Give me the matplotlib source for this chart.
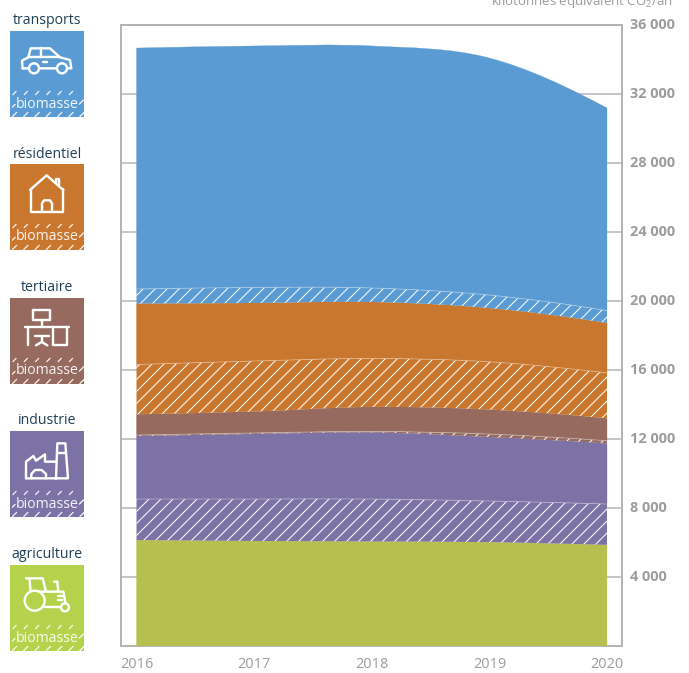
import numpy as np
import matplotlib
matplotlib.use("Agg")
import matplotlib.pyplot as plt
from matplotlib.path import Path
from matplotlib.patches import PathPatch, Rectangle, Circle

plt.rcParams['font.family'] = ['Open Sans', 'DejaVu Sans']
plt.rcParams['mathtext.default'] = 'regular'
plt.rcParams['hatch.linewidth'] = 1.0

years = [2016, 2017, 2018, 2019, 2020]
agriculture = [6140, 6090, 6060, 6020, 5860]
industrie_biomasse = [2380, 2430, 2460, 2385, 2370]
industrie = [3650, 3770, 3860, 3710, 3510]
tertiaire_biomasse = [60, 60, 60, 170, 160]
tertiaire = [1200, 1245, 1420, 1420, 1300]
residentiel_biomasse = [2890, 2925, 2810, 2770, 2630]
residentiel = [3535, 3365, 3275, 3115, 2900]
transports_biomasse = [840, 900, 810, 755, 710]
transports = [13970, 14000, 14030, 13740, 11750]
yticks = [4000, 8000, 12000, 16000, 20000, 24000, 28000, 32000, 36000]
ytick_labels = ['4 000', '8 000', '12 000', '16 000', '20 000', '24 000', '28 000', '32 000', '36 000']

BLUE, ORANGE, BROWN, PURPLE, OLIVE, LIME = '#5b9bd3', '#c9772e', '#966a5f', '#7c72a6', '#b7c04e', '#b5d24c'
W, H = 689, 673
GRID = '#b4b4b8'
GREY = '#9c9c9c'
DARK = '#1f3f55'

fig = plt.figure(figsize=(W / 72, H / 72), dpi=72)
ax = fig.add_axes([121 / W, 1 - 646 / H, (621.5 - 121) / W, (646 - 25) / H])
x = np.array(years, float)
ppy = (607 - 136.5) / 4
ax.set_xlim(2016 - 15.5 / ppy, 2020 + 14.5 / ppy)
ax.set_ylim(0, 36000)


def tangents(v):
    t = np.gradient(v, x)
    d = np.diff(v) / np.diff(x)
    t[0] = d[0] * 1.0
    t[-1] = d[-1] * 1.25
    return t


def curve(v):
    """Bezier segments through the yearly values."""
    t = tangents(v)
    verts, codes = [], []
    for i in range(len(x) - 1):
        h = x[i + 1] - x[i]
        verts += [(x[i] + h / 3, v[i] + t[i] * h / 3),
                  (x[i + 1] - h / 3, v[i + 1] - t[i + 1] * h / 3),
                  (x[i + 1], v[i + 1])]
        codes += [Path.CURVE4] * 3
    return verts, codes


def band(low, high):
    v_hi, c_hi = curve(high)
    v_lo, c_lo = curve(low)
    pts_lo = [(x[0], low[0])] + v_lo
    rev = pts_lo[::-1]
    verts = [(x[0], high[0])] + v_hi + rev + [(x[0], high[0])]
    codes = [Path.MOVETO] + c_hi + [Path.LINETO] + c_lo + [Path.CLOSEPOLY]
    return Path(verts, codes)


series = [(agriculture, OLIVE, False), (industrie_biomasse, PURPLE, True), (industrie, PURPLE, False),
          (tertiaire_biomasse, BROWN, True), (tertiaire, BROWN, False),
          (residentiel_biomasse, ORANGE, True), (residentiel, ORANGE, False),
          (transports_biomasse, BLUE, True), (transports, BLUE, False)]

low = np.zeros(5)
for vals, col, hatched in series:
    high = low + np.array(vals, float)
    if hatched:
        ax.add_patch(PathPatch(band(low, high), facecolor=col, edgecolor='white', hatch='//', lw=0, zorder=3))
        v, c = curve(high)
        ax.add_patch(PathPatch(Path([(x[0], high[0])] + v, [Path.MOVETO] + c), fill=False,
                               edgecolor='white', lw=0.8, alpha=0.4, zorder=4))
    else:
        ax.add_patch(PathPatch(band(low, high), facecolor=col, edgecolor=col, lw=0.3, zorder=3))
    low = high

ax.yaxis.tick_right()
ax.set_yticks(yticks)
ax.set_yticklabels(ytick_labels, fontsize=14.5, fontweight='bold', color=GREY, va='center')
ax.set_xticks(years)
ax.set_xticklabels(years, fontsize=14.5, color=GREY)
ax.tick_params(axis='both', length=0)
ax.tick_params(axis='y', pad=9)
ax.tick_params(axis='x', pad=11)
ax.grid(axis='y', color=GRID, lw=1.5, zorder=1)
ax.set_axisbelow(True)
for s in ax.spines.values():
    s.set_color(GRID)
    s.set_linewidth(2)

# overlay in pixel coordinates for the legend column
ov = fig.add_axes([0, 0, 1, 1], facecolor='none')
ov.set_xlim(0, W)
ov.set_ylim(H, 0)
ov.axis('off')

ov.text(673, 5.5, 'kilotonnes équivalent CO$_2$/an', ha='right', va='baseline', fontsize=13.3, color=GREY, clip_on=False)

legend_names = ['transports', 'résidentiel', 'tertiaire', 'industrie', 'agriculture']
legend_colors = [BLUE, ORANGE, BROWN, PURPLE, LIME]
legend_tops = [31, 164, 298, 431, 565]
legend_label_y = [21, 154, 287.5, 421, 555]


def pl(pts, oy=0, lw=2.4):
    a = np.array(pts, float) / 3
    ov.plot(a[:, 0], a[:, 1] + oy, color='white', lw=lw, solid_capstyle='round', solid_joinstyle='round', zorder=6)


def circ(cx, cy, r, oy, fc):
    ov.add_patch(Circle((cx / 3, cy / 3 + oy), r / 3, facecolor=fc, edgecolor='white', lw=2.4, zorder=7))


for name, col, top, ly in zip(legend_names, legend_colors, legend_tops, legend_label_y):
    ov.add_patch(Rectangle((10, top), 74, 86, facecolor=col, edgecolor='none', zorder=5))
    ov.text(47, ly, name, ha='center', va='center', fontsize=14, color=DARK, zorder=6)
    ov.text(47, top + 73, 'biomasse', ha='center', va='center', fontsize=14, color='white', alpha=.92, zorder=6)
    for k in range(6):
        for row in (0, 1):
            x0 = 12.5 + k * 11.3 + (0 if row else 0.5)
            y0 = top + (63.5 if row == 0 else 85.5)
            h = 3 if row == 0 else 4
            ov.plot([x0, x0 + h], [y0, y0 - h], color='white', lw=1.2, alpha=.95, zorder=6)
    ov.plot([12.5, 15], [top + 76, top + 73.5], color='white', lw=1.2, zorder=6)
    ov.plot([79.5, 83.5], [top + 73, top + 69], color='white', lw=1.2, zorder=6)
    ov.plot([80, 84], [top + 85.5, top + 81.5], color='white', lw=1.2, zorder=6)

# car
pl([(68, 205), (66, 182), (85, 172), (92, 145), (150, 145), (180, 172), (210, 180), (214, 205), (68, 205)])
pl([(85, 172), (180, 172)])
pl([(122, 145), (122, 172)])
pl([(130, 185), (140, 185)])
circ(102, 205, 15, 0, BLUE)
circ(186, 205, 15, 0, BLUE)
# house
pl([(90, 570), (140, 526), (190, 570)], 0)
pl([(168, 548), (168, 536), (178, 536), (178, 556)], 0)
pl([(92, 568), (92, 636), (188, 636), (188, 568)], 0)
pl([(126, 636), (126, 610), (132, 601), (150, 601), (156, 610), (156, 636)], 0)
# desk
oy = 270
pl([(100, 120), (150, 120), (150, 150), (100, 150), (100, 120)], oy)
pl([(125, 150), (125, 170)], oy)
pl([(76, 170), (206, 170)], oy)
pl([(84, 170), (84, 226)], oy)
pl([(160, 170), (160, 226), (200, 226), (200, 170)], oy)
pl([(104, 198), (146, 198)], oy)
pl([(125, 198), (125, 216)], oy)
pl([(108, 226), (125, 216), (142, 226)], oy)
# factory
pl([(78, 625), (78, 575), (100, 558), (108, 572), (135, 553), (135, 575), (168, 575)], oy)
pl([(168, 625), (172, 520), (196, 520), (204, 625), (78, 625)], oy)
pl([(170, 548), (198, 548)], oy)
pl([(94, 625), (94, 612), (105, 600), (125, 600), (138, 612), (138, 625)], oy)
# tractor
oy = 530
pl([(78, 145), (128, 145), (138, 185)], oy)
pl([(88, 145), (92, 185)], oy)
pl([(92, 185), (190, 185), (196, 218)], oy)
pl([(162, 155), (172, 155), (175, 185)], oy)
pl([(134, 232), (183, 232)], oy)
pl([(175, 197), (185, 197)], oy)
pl([(175, 210), (185, 210)], oy)
circ(104, 212, 30, oy, LIME)
circ(195, 232, 12, oy, LIME)

fig.savefig('out.png', dpi=72)
